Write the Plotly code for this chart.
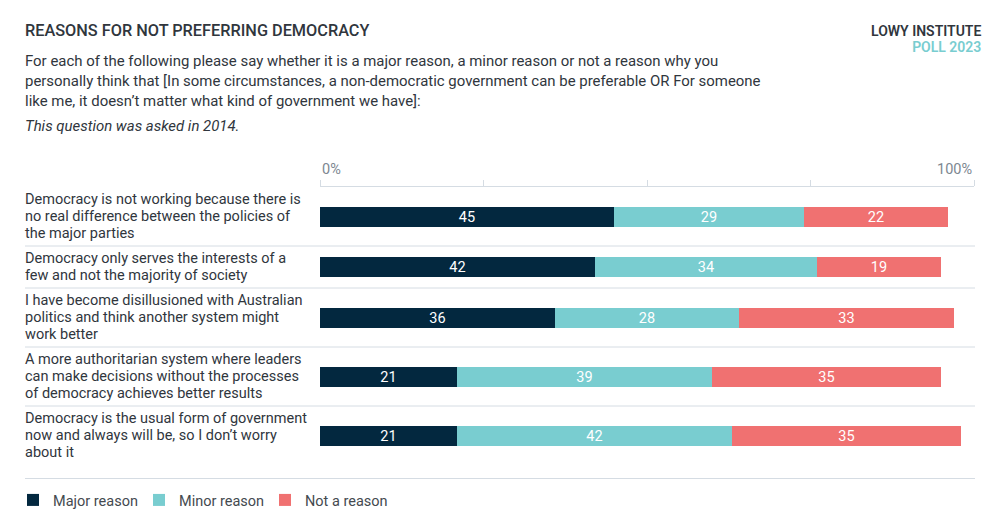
import plotly.graph_objects as go

# ---------------- data ----------------
categories = [
    "Democracy is not working because there is<br>no real difference between the policies of<br>the major parties",
    "Democracy only serves the interests of a<br>few and not the majority of society",
    "I have become disillusioned with Australian<br>politics and think another system might<br>work better",
    "A more authoritarian system where leaders<br>can make decisions without the processes<br>of democracy achieves better results",
    "Democracy is the usual form of government<br>now and always will be, so I don\u2019t worry<br>about it",
]
major_reason = [45, 42, 36, 21, 21]
minor_reason = [29, 34, 28, 39, 42]
not_a_reason = [22, 19, 33, 35, 35]
series_names = ["Major reason", "Minor reason", "Not a reason"]
axis_tick_values = [0, 25, 50, 75, 100]

# ---------------- style ----------------
W, H = 1000, 525
FONT = "Roboto"
DARK = "#03283f"
TEAL = "#79cdd0"
CORAL = "#f07171"
TEXT = "#30363d"
GRID = "#d5dce3"

def px_y(p):  # pixel from top -> paper y
    return 1 - p / H

# row layout derived from label line counts (rows grow with wrapped text)
LINE_H = 17
ROW_PAD = 8
label_lines = [c.split("<br>") for c in categories]
row_heights = [ROW_PAD + LINE_H * len(ls) for ls in label_lines]
bounds = [0]
for h in row_heights:
    bounds.append(bounds[-1] + h)
centers = [(bounds[i] + bounds[i + 1]) / 2 for i in range(len(categories))]
total = bounds[-1]

plot_top_px = 187
plot_bot_px = plot_top_px + total

fig = go.Figure()
for name, vals, col in zip(series_names, [major_reason, minor_reason, not_a_reason], [DARK, TEAL, CORAL]):
    fig.add_trace(go.Bar(
        name=name,
        x=vals,
        y=centers,
        orientation="h",
        width=20,
        marker=dict(color=col, line=dict(width=0)),
        text=[str(v) for v in vals],
        textposition="inside",
        insidetextanchor="middle",
        constraintext="none",
        textangle=0,
        textfont=dict(family=FONT, size=14.5, color="white"),
        hoverinfo="x+name",
    ))

annotations = []
# row labels, one annotation per wrapped line for exact line spacing
for ls, yc in zip(label_lines, centers):
    n = len(ls)
    for i, line in enumerate(ls):
        annotations.append(dict(
            text=line, x=0.023, xref="paper", xanchor="left",
            y=yc + (i - (n - 1) / 2) * LINE_H, yref="y", yanchor="middle", align="left",
            showarrow=False, font=dict(family=FONT, size=14.5, color=TEXT),
        ))

# axis end labels
annotations.append(dict(text="0%", x=0, xref="x", xanchor="left",
                        y=px_y(170), yref="paper", yanchor="middle", showarrow=False,
                        font=dict(family=FONT, size=14.5, color="#7d8791")))
annotations.append(dict(text="100%", x=100, xref="x", xanchor="right",
                        y=px_y(170), yref="paper", yanchor="middle", showarrow=False,
                        font=dict(family=FONT, size=14.5, color="#7d8791")))

# title & subtitle
annotations.append(dict(text="REASONS FOR NOT PREFERRING DEMOCRACY", x=0.023, xref="paper", xanchor="left",
                        y=px_y(30), yref="paper", yanchor="middle", showarrow=False,
                        font=dict(family=FONT, size=16.3, color=TEXT, weight=500)))
sub_lines = [
    "For each of the following please say whether it is a major reason, a minor reason or not a reason why you",
    "personally think that [In some circumstances, a non-democratic government can be preferable OR For someone",
    "like me, it doesn\u2019t matter what kind of government we have]:",
]
for i, s in enumerate(sub_lines):
    annotations.append(dict(text=s, x=0.023, xref="paper", xanchor="left",
                            y=px_y(61 + 20 * i), yref="paper", yanchor="middle", showarrow=False,
                            font=dict(family=FONT, size=14.95, color=TEXT)))
annotations.append(dict(text="<i>This question was asked in 2014.</i>", x=0.023, xref="paper", xanchor="left",
                        y=px_y(126), yref="paper", yanchor="middle", showarrow=False,
                        font=dict(family=FONT, size=14.95, color=TEXT)))

# brand (two tight lines in one text block)
annotations.append(dict(
    text=("<span style='font-size:14px'>LOWY INSTITUTE</span><br>"
          "<span style='font-size:14px;color:%s'>POLL 2023</span>" % TEAL),
    x=0.983, xref="paper", xanchor="right", align="right",
    y=px_y(39.5), yref="paper", yanchor="middle", showarrow=False,
    font=dict(family=FONT, size=12.3, color=TEXT, weight=600)))

# separators
shapes = []
for b in bounds[1:-1]:
    shapes.append(dict(type="line", xref="paper", x0=0.025, x1=0.975, yref="y", y0=b, y1=b,
                       line=dict(color=GRID, width=1)))
shapes.append(dict(type="line", xref="paper", x0=0.025, x1=0.975, yref="paper",
                   y0=px_y(478.5), y1=px_y(478.5), line=dict(color=GRID, width=1)))

fig.update_layout(
    width=W, height=H,
    margin=dict(l=0, r=0, t=0, b=0),
    paper_bgcolor="white", plot_bgcolor="white",
    barmode="stack",
    bargap=0,
    font=dict(family=FONT, size=14, color=TEXT),
    xaxis=dict(
        range=[0, 100], domain=[0.32, 0.974], side="top",
        showline=True, linecolor=GRID, linewidth=1,
        ticks="outside", ticklen=6, tickcolor=GRID, tickwidth=1,
        tickvals=axis_tick_values, showticklabels=False,
        showgrid=False, zeroline=False, fixedrange=True,
    ),
    yaxis=dict(
        range=[total, 0], domain=[px_y(plot_bot_px), px_y(plot_top_px)],
        visible=False, fixedrange=True,
    ),
    showlegend=True,
    legend=dict(
        orientation="h", x=0.013, xanchor="left", y=px_y(500), yanchor="middle",
        font=dict(family=FONT, size=14.5, color="#444a50"),
        entrywidth=81, entrywidthmode="pixels",
        traceorder="normal", itemclick=False, itemdoubleclick=False,
    ),
    annotations=annotations,
    shapes=shapes,
)

fig.write_html(
    "out.html",
    config={"displayModeBar": False},
    post_script="document.body.style.margin='0';document.body.style.overflow='hidden';",
)
